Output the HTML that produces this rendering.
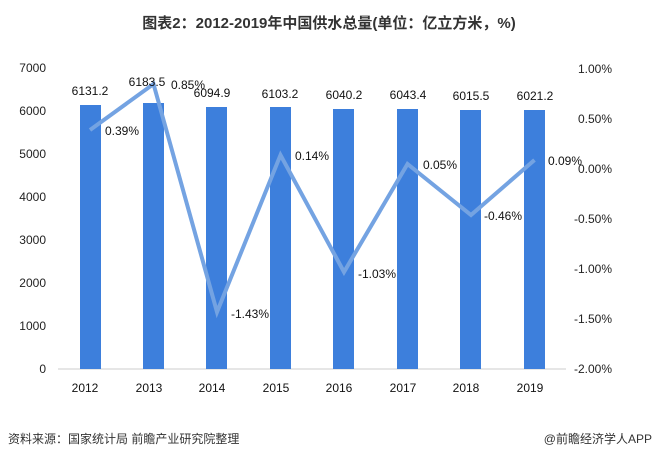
<!DOCTYPE html>
<html><head><meta charset="utf-8"><style>
body{margin:0;background:#fff;}
svg{display:block;font-family:"Liberation Sans","Noto Sans CJK SC",sans-serif;}
</style></head><body>
<svg width="659" height="459" xmlns="http://www.w3.org/2000/svg">
<text x="329" y="28" text-anchor="middle" font-size="15" font-weight="bold" fill="#333">图表2：2012-2019年中国供水总量(单位：亿立方米，%)</text>
<g font-size="12" fill="#222" text-anchor="end">
<text x="46" y="373">0</text><text x="46" y="330">1000</text><text x="46" y="287">2000</text><text x="46" y="244">3000</text><text x="46" y="201">4000</text><text x="46" y="158">5000</text><text x="46" y="115">6000</text><text x="46" y="72">7000</text>
</g>
<g font-size="12" fill="#222" text-anchor="start">
<text x="578" y="73">1.00%</text><text x="578" y="123">0.50%</text><text x="578" y="173">0.00%</text><text x="574" y="223">-0.50%</text><text x="574" y="273">-1.00%</text><text x="574" y="323">-1.50%</text><text x="574" y="373">-2.00%</text>
</g>
<line x1="58" y1="369" x2="566" y2="369" stroke="#ccc"/>
<g fill="#3d7fdc">
<rect x="80" y="105" width="21" height="264"/>
<rect x="143" y="103" width="21" height="266"/>
<rect x="206" y="107" width="21" height="262"/>
<rect x="270" y="107" width="21" height="262"/>
<rect x="333" y="109" width="21" height="260"/>
<rect x="397" y="109" width="21" height="260"/>
<rect x="460" y="110" width="21" height="259"/>
<rect x="524" y="110" width="21" height="259"/>
</g>
<polyline points="90,130 153.5,84 217,312 280.5,155 344,272 407.5,164 471,215 534.5,160" fill="none" stroke="#74a3e2" stroke-width="4" stroke-linejoin="miter"/>
<g font-size="12" fill="#111" text-anchor="middle">
<text x="90" y="95">6131.2</text><text x="147" y="86">6183.5</text><text x="212" y="97">6094.9</text><text x="280" y="98">6103.2</text><text x="344" y="99">6040.2</text><text x="408" y="99">6043.4</text><text x="471" y="100">6015.5</text><text x="535" y="100">6021.2</text>
<text x="122" y="135">0.39%</text><text x="188" y="89">0.85%</text><text x="250" y="318">-1.43%</text><text x="312" y="160">0.14%</text><text x="377" y="278">-1.03%</text><text x="440" y="169">0.05%</text><text x="503" y="220">-0.46%</text><text x="565" y="165">0.09%</text>
<text x="85" y="392">2012</text><text x="149" y="392">2013</text><text x="212" y="392">2014</text><text x="276" y="392">2015</text><text x="339" y="392">2016</text><text x="403" y="392">2017</text><text x="466" y="392">2018</text><text x="530" y="392">2019</text>
</g>
<text x="8" y="443" font-size="12" fill="#333">资料来源：国家统计局 前瞻产业研究院整理</text>
<text x="652" y="443" font-size="12" fill="#333" text-anchor="end">@前瞻经济学人APP</text>
</svg>
</body></html>
